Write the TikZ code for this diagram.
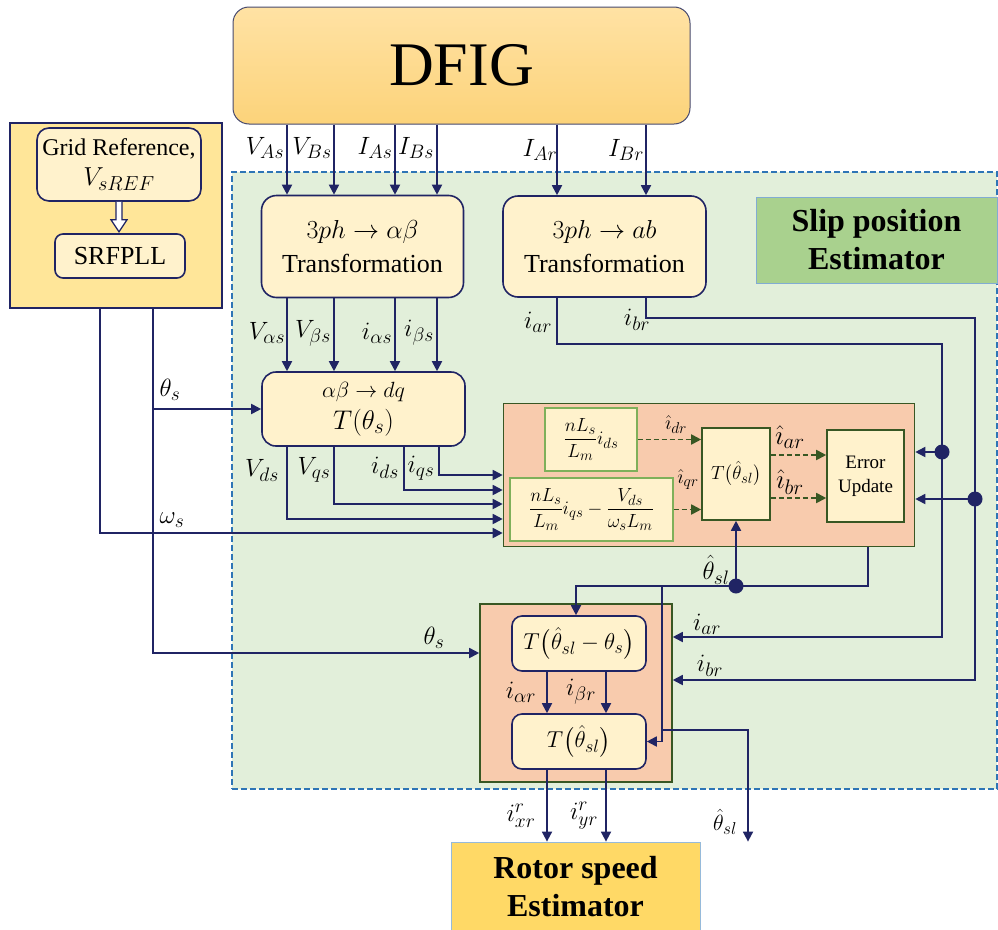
\RequirePackage{fix-cm}
\documentclass[tikz,border=0pt]{standalone}
\usepackage{amsmath}
\usepackage{fontspec}
\setmainfont{Liberation Serif}
\usetikzlibrary{arrows.meta,calc}
\renewcommand{\defaultscriptratio}{.78}
\renewcommand{\defaultscriptscriptratio}{.6}
\definecolor{navy}{RGB}{32,36,100}
\definecolor{lyel}{HTML}{FFF2CC}
\definecolor{pllfill}{HTML}{FFE699}
\definecolor{regfill}{HTML}{E2EFDA}
\definecolor{regdash}{HTML}{2E75B6}
\definecolor{orfill}{HTML}{F8CBAD}
\definecolor{dkgreen}{HTML}{385723}
\definecolor{ltgreen}{HTML}{7FB05A}
\definecolor{slipfill}{HTML}{A9D18E}
\definecolor{rotfill}{HTML}{FFD966}
\definecolor{dfigtop}{HTML}{FFE2A4}
\definecolor{dfigbot}{HTML}{FCD37A}
\newcommand\fsz[2]{\fontsize{#1}{#2}\selectfont}
\tikzset{
  ln/.style={draw=navy, line width=1.8pt},
  arr/.style={ln, -{Triangle[length=10pt,width=10pt]}},
  dasharr/.style={draw=dkgreen, line width=1.8pt, dash pattern=on 5pt off 3pt, -{Triangle[length=10pt,width=10pt]}},
  ybox/.style={draw=navy, fill=lyel, line width=1.6pt, inner sep=0pt, align=center},
  gbox/.style={fill=lyel, inner sep=0pt, align=center},
  lbl/.style={inner sep=0pt, font=\fsz{25}{29}},
  hlbl/.style={inner sep=0pt, font=\fsz{27}{31}},
  dot/.style={fill=navy},
}
\begin{document}
\begin{tikzpicture}[x=1pt,y=-1pt]
\useasboundingbox (0,0) rectangle (998,929);

% background region
\node[fill=regfill, draw=regdash, line width=1.4pt, dash pattern=on 6pt off 3pt, minimum width=765pt, minimum height=617pt, inner sep=0pt] (reg) at (614.5,480.5) {};

% DFIG
\node[top color=dfigtop, bottom color=dfigbot, draw=navy!60!gray, line width=1pt, rounded corners=16pt,
      minimum width=457pt, minimum height=117pt, inner sep=0pt, font=\fsz{62}{70}] (dfig) at (461.5,65.5) {DFIG};

% PLL panel
\node[draw=navy, fill=pllfill, line width=1.6pt, minimum width=212pt, minimum height=185pt, inner sep=0pt] (pll) at (116,215.5) {};
\node[ybox, rounded corners=12pt, minimum width=164pt, minimum height=73pt, font=\fsz{24}{30}] (grid) at (119,164.5) {Grid Reference,\\{\fsz{26}{30}$V_{sREF}$}};
\node[ybox, rounded corners=8pt, minimum width=130pt, minimum height=44pt, font=\fsz{26}{30}] (srf) at (120,256) {SRFPLL};
\draw[navy, line width=1.2pt, fill=white] ($(grid.south)+(-3,0)$) -- ++(0,18) -- ++(-5,0) -- ++(8,12) -- ++(8,-12) -- ++(-5,0) -- ++(0,-18);

% transformation boxes
\node[ybox, rounded corners=15pt, minimum width=202pt, minimum height=102pt, font=\fsz{26}{34}] (t3ab) at (362.5,246.5) {$3ph\rightarrow\alpha\beta$\\Transformation};
\node[ybox, rounded corners=15pt, minimum width=203pt, minimum height=101pt, font=\fsz{26}{34}] (t3r) at (604.5,246.5) {$3ph\rightarrow ab$\\Transformation};
\node[ybox, rounded corners=14pt, minimum width=203pt, minimum height=74pt] (tdq) at (363.5,409)
  {{\fsz{22}{26}$\alpha\beta\rightarrow dq$}\\[7pt]{\fsz{27}{30}$T(\theta_s)$}};

% slip position label box
\node[draw=regdash!60, fill=slipfill, line width=0.8pt, minimum width=241pt, minimum height=86pt, inner sep=0pt,
      align=center, font=\bfseries\fsz{32}{38}] (slip) at (876.5,240) {Slip position\\Estimator};

% upper orange box
\node[draw=dkgreen, fill=orfill, line width=1.6pt, minimum width=411pt, minimum height=143pt, inner sep=0pt] (obox) at (709,475) {};
\node[gbox, draw=ltgreen, line width=1.2pt, minimum width=92pt, minimum height=63pt, font=\fsz{19}{22}] (b1) at (591,439.5) {$\dfrac{nL_s}{L_m}i_{ds}$};
\node[gbox, draw=ltgreen, line width=1.2pt, minimum width=163pt, minimum height=63pt, font=\fsz{19}{22}] (b2) at (591.5,509.5) {$\dfrac{nL_s}{L_m}i_{qs}-\dfrac{V_{ds}}{\omega_s L_m}$};
\node[gbox, draw=dkgreen, line width=1.6pt, minimum width=68pt, minimum height=92pt, font=\fsz{19}{22}] (tsl) at (736,474) {$T\bigl(\hat\theta_{sl}\bigr)$};
\node[gbox, draw=dkgreen, line width=1.6pt, minimum width=77pt, minimum height=92pt, font=\fsz{19}{24}] (err) at (865.5,476) {Error\\Update};

% lower orange box
\node[draw=dkgreen, fill=orfill, line width=1.6pt, minimum width=192pt, minimum height=178pt, inner sep=0pt] (lbox) at (576,693) {};
\node[ybox, rounded corners=10pt, minimum width=134pt, minimum height=55pt, font=\fsz{23}{26}] (tdiff) at (579,643.5) {$T\bigl(\hat\theta_{sl}-\theta_s\bigr)$};
\node[ybox, rounded corners=10pt, minimum width=134pt, minimum height=55pt, font=\fsz{23}{26}] (tsl2) at (579,741.5) {$T\bigl(\hat\theta_{sl}\bigr)$};

% rotor speed estimator
\node[draw=regdash!50, fill=rotfill, line width=0.8pt, minimum width=249pt, minimum height=90pt, inner sep=0pt,
      align=center, font=\bfseries\fsz{32}{38}] (rotor) at (575.5,887) {Rotor speed\\Estimator};

% helper coordinates
\coordinate (c1) at (287,0);
\coordinate (c2) at (334,0);
\coordinate (c3) at (395,0);
\coordinate (c4) at (437,0);
\coordinate (c5) at (404,0);
\coordinate (c6) at (439,0);
\coordinate (cAr) at (557,0);
\coordinate (cBr) at (646,0);
\coordinate (xw) at (100,0);
\coordinate (xt) at (153,0);
\coordinate (y1) at (0,475);
\coordinate (y2) at (0,490);
\coordinate (y3) at (0,504);
\coordinate (y4) at (0,519);
\coordinate (yw) at (0,533);
\coordinate (yts) at (0,653);
\coordinate (xa) at (942,0);
\coordinate (xb) at (975,0);
\coordinate (ya) at (0,344);
\coordinate (yb) at (0,318);
\coordinate (yla) at (0,637);
\coordinate (ylb) at (0,680);
\coordinate (ja) at (942,452);
\coordinate (jb) at (975,499);
\coordinate (yh) at (0,586);
\coordinate (xh) at (868,0);
\coordinate (xm) at (662,0);
\coordinate (xtd) at (576,0);
\coordinate (ybr) at (0,730);
\coordinate (xo) at (748,0);
\coordinate (xi1) at (547,0);
\coordinate (xi2) at (606,0);
\coordinate (yd1) at (0,455);
\coordinate (yd2) at (0,498);
\coordinate (jt) at (tsl.south |- yh);

% DFIG to transformations
\foreach \c in {c1,c2,c3,c4} {
  \draw[arr] (dfig.south -| \c) -- (t3ab.north -| \c);
  \draw[arr] (t3ab.south -| \c) -- (tdq.north -| \c);
}
\draw[arr] (dfig.south -| cAr) -- (t3r.north -| cAr);
\draw[arr] (dfig.south -| cBr) -- (t3r.north -| cBr);

% dq outputs
\draw[arr] (tdq.south -| c6) |- (y1 -| obox.west);
\draw[arr] (tdq.south -| c5) |- (y2 -| obox.west);
\draw[arr] (tdq.south -| c2) |- (y3 -| obox.west);
\draw[arr] (tdq.south -| c1) |- (y4 -| obox.west);

% PLL outputs
\draw[arr] (pll.south -| xw) |- (yw -| obox.west);
\draw[arr] (pll.south -| xt) |- (yts -| lbox.west);
\draw[arr] (xt |- tdq.west) -- (tdq.west);

% rotor currents
\draw[arr] (t3r.south -| cAr) |- (ya -| xa) |- (yla -| lbox.east);
\draw[arr] (t3r.south -| cBr) |- (yb -| xb) |- (ylb -| lbox.east);
\draw[arr] (ja) -- (ja -| obox.east);
\draw[arr] (jb) -- (jb -| obox.east);
\fill[dot] (ja) circle (7.5pt);
\fill[dot] (jb) circle (7.5pt);

% dashed internal signals
\draw[dasharr] (b1.east) -- (b1.east -| tsl.west);
\draw[dasharr] (b2.east) -- (b2.east -| tsl.west);
\draw[dasharr] (yd1 -| tsl.east) -- (yd1 -| err.west);
\draw[dasharr] (yd2 -| tsl.east) -- (yd2 -| err.west);

% slip angle feedback
\draw[arr] (obox.south -| xh) |- (yh -| xtd) -- (tdiff.north -| xtd);
\draw[arr] (jt) -- (tsl.south);
\fill[dot] (jt) circle (7.5pt);
\draw[arr] (yh -| xm) |- (tsl2.east);
\draw[arr] (ybr -| xm) -| (xo |- rotor.north);

% lower box internal
\draw[arr] (tdiff.south -| xi1) -- (tsl2.north -| xi1);
\draw[arr] (tdiff.south -| xi2) -- (tsl2.north -| xi2);
\draw[arr] (tsl2.south -| xi1) -- (rotor.north -| xi1);
\draw[arr] (tsl2.south -| xi2) -- (rotor.north -| xi2);

% labels
\node[lbl] (lVA) at (265,148) {$V_{As}$};
\node[lbl] (lVB) at (312,148) {$V_{Bs}$};
\node[lbl] (lIA) at (375,148) {$I_{As}$};
\node[lbl] (lIB) at (416,148) {$I_{Bs}$};
\node[lbl] (lIAr) at (540,150) {$I_{Ar}$};
\node[lbl] (lIBr) at (626,150) {$I_{Br}$};
\node[lbl] (lVal) at (267,333) {$V_{\alpha s}$};
\node[lbl] (lVbe) at (313,333) {$V_{\beta s}$};
\node[lbl] (lial) at (377,333) {$i_{\alpha s}$};
\node[lbl] (libe) at (419,333) {$i_{\beta s}$};
\node[lbl] (liar) at (538,322) {$i_{ar}$};
\node[lbl] (libr) at (637,320) {$i_{br}$};
\node[lbl] (lth1) at (170,390) {$\theta_s$};
\node[lbl] (lVd) at (262,470) {$V_{ds}$};
\node[lbl] (lVq) at (314,470) {$V_{qs}$};
\node[lbl] (lid) at (385,468) {$i_{ds}$};
\node[lbl] (liq) at (421,468) {$i_{qs}$};
\node[lbl] (lws) at (172,520) {$\omega_s$};
\node[lbl] (lth2) at (434,638) {$\theta_s$};
\node[lbl, font=\fsz{20}{24}] (lidr) at (676,425) {$\hat\imath_{dr}$};
\node[lbl, font=\fsz{20}{24}] (liqr) at (688,480) {$\hat\imath_{qr}$};
\node[hlbl] (liarh) at (790,437) {$\hat\imath_{ar}$};
\node[hlbl] (librh) at (790,482) {$\hat\imath_{br}$};
\node[lbl] (lthsl) at (716,570) {$\hat\theta_{sl}$};
\node[lbl] (liar2) at (707,624) {$i_{ar}$};
\node[lbl] (libr2) at (710,666) {$i_{br}$};
\node[lbl] (liaR) at (521,692) {$i_{\alpha r}$};
\node[lbl] (libR) at (581,692) {$i_{\beta r}$};
\node[lbl] (lixr) at (521,816) {$i^{r}_{xr}$};
\node[lbl] (liyr) at (584,816) {$i^{r}_{yr}$};
\node[lbl, font=\fsz{22}{26}] (lthout) at (725,822) {$\hat\theta_{sl}$};
\end{tikzpicture}
\end{document}
